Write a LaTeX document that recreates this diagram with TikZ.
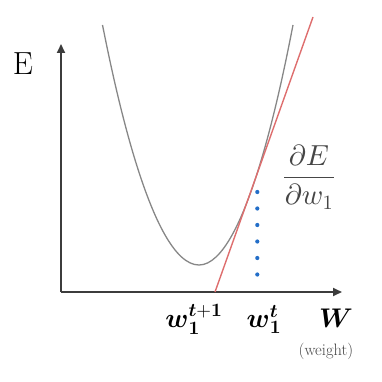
\documentclass[tikz,border=0pt]{standalone}
\usepackage{amsmath,amssymb}
\usepackage{xcolor}
\usepackage{tikz}
\usetikzlibrary{arrows.meta,calc,positioning}
\DeclareFontShape{OML}{cmm}{m}{it}{<->cmmi10}{}
\DeclareFontShape{OML}{cmm}{b}{it}{<->cmmib10}{}
\DeclareFontShape{OT1}{cmr}{m}{n}{<->cmr10}{}
\DeclareFontShape{OT1}{cmr}{bx}{n}{<->cmbx10}{}
\DeclareFontShape{OMS}{cmsy}{m}{n}{<->cmsy10}{}
\definecolor{axiscol}{RGB}{60,60,60}
\definecolor{curvecol}{RGB}{135,135,135}
\definecolor{tangentcol}{RGB}{222,110,110}
\definecolor{dotcol}{RGB}{35,110,200}
\definecolor{labelcol}{RGB}{70,70,70}
\newcommand{\bigfont}[1]{\fontsize{#1}{#1}\selectfont}

\begin{document}
\begin{tikzpicture}[x=1pt,y=-1pt,
    axisline/.style={draw=axiscol,line width=2pt,-{Triangle[length=9pt,width=8pt]}},
    wlabel/.style={anchor=base,inner sep=0pt,font=\bigfont{27}}]
  \useasboundingbox (0,0) rectangle (381,382);
  \coordinate (origin) at (61,292);
  \coordinate (ytop) at (61,44);
  \coordinate (xend) at (342,292);
  \draw[axisline] (origin) -- (ytop);
  \draw[axisline] (origin) -- (xend);
  \node[inner sep=0pt,font=\bigfont{32}] (elabel) at (23,64) {E};
  \draw[curvecol,line width=1.3pt] (102.5,25) parabola bend (199,265) (293,25);
  \coordinate (tfoot) at (215,292);
  \coordinate (ttop) at (313,17);
  \draw[tangentcol,line width=1.4pt] (tfoot) -- (ttop);
  \foreach \k in {0,...,5}
    \fill[dotcol] (257.3,192+16.5*\k) circle (2.1pt);
  \node[labelcol,inner sep=0pt,font=\bigfont{29}] (grad) at (309,177)
    {$\displaystyle\frac{\,\partial E\,}{\partial w_1}$};
  \node[wlabel] (wnext) at (194,327) {$\boldsymbol{w}_{\mathbf{1}}^{\boldsymbol{t}+\mathbf{1}}$};
  \node[wlabel] (wnow) at (264,327) {$\boldsymbol{w}_{\mathbf{1}}^{\boldsymbol{t}}$};
  \node[wlabel] (waxis) at (336,327) {$\boldsymbol{W}$};
  \node[labelcol,inner sep=0pt,font=\bigfont{16.5}] (wname) at (326,351) {(weight)};
\end{tikzpicture}
\end{document}
